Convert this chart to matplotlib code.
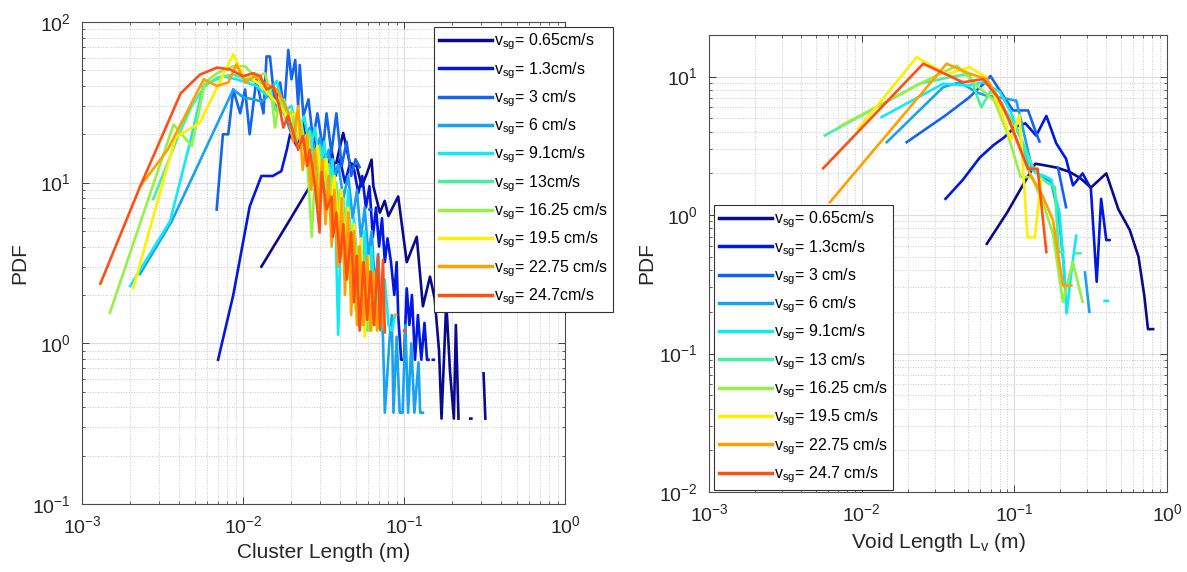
import numpy as np
import matplotlib
matplotlib.use("Agg")
import matplotlib.pyplot as plt

plt.rcParams['font.family'] = ['Liberation Sans', 'DejaVu Sans']
plt.rcParams['mathtext.fontset'] = 'custom'
plt.rcParams['mathtext.rm'] = 'Liberation Sans'
plt.rcParams['mathtext.it'] = 'Liberation Sans:italic'
plt.rcParams['mathtext.bf'] = 'Liberation Sans:bold'

nan = np.nan

# superficial gas velocities and line colours (jet-like)
labels_left = ['0.65cm/s', '1.3cm/s', '3 cm/s', '6 cm/s', '9.1cm/s', '13cm/s',
               '16.25 cm/s', '19.5 cm/s', '22.75 cm/s', '24.7cm/s']
labels_right = ['0.65cm/s', '1.3cm/s', '3 cm/s', '6 cm/s', '9.1cm/s', '13 cm/s',
                '16.25 cm/s', '19.5 cm/s', '22.75 cm/s', '24.7 cm/s']
colors = ['#0a0a8c', '#0018e0', '#1464f0', '#18a2f0', '#10eaf8',
          '#46f0a0', '#96f046', '#fff000', '#ffa000', '#ff5014']

# ---- cluster length PDFs (left) ----
cl_x_065 = [0.0130, 0.0196, 0.0257, 0.0290, 0.0330, 0.0380, 0.0419, 0.0460, 0.0508, 0.0546, 0.0590,
            0.0629, 0.0645, 0.0708, 0.0759, 0.0800, 0.0920, 0.1040, 0.1200, 0.1310, 0.1450, 0.1550,
            0.1650, 0.1710, 0.1830, 0.1930, 0.2040, 0.2100, 0.2180, nan, 0.2580, 0.2620, nan, 0.3120, 0.3200]
cl_y_065 = [3.0, 5.9, 9.3, 11.0, 12.7, 13.3, 20.4, 13.3, 12.7, 9.5, 11.5,
            13.9, 9.5, 6.5, 7.7, 6.2, 8.2, 3.2, 4.6, 1.7, 2.6, 1.9,
            0.9, 0.34, 1.8, 0.67, 0.34, 1.3, 0.34, nan, 0.34, 0.34, nan, 0.65, 0.34]
cl_x_13 = [0.0070, 0.0087, 0.0110, 0.0130, 0.0153, 0.0173, 0.0187, 0.0196, 0.0215, 0.0235, 0.0255,
           0.0275, 0.0295, 0.0315, 0.0335, 0.0355, 0.0375, 0.0400, 0.0430, 0.0460, 0.0490, 0.0520,
           0.0550, 0.0580, 0.0610, 0.0640, 0.0670, 0.0700, 0.0730, 0.0760, 0.0790, 0.0830, 0.0870,
           0.0900, 0.0920, 0.0960, 0.1000, 0.1040, 0.1080, 0.1120, 0.1170, 0.1220, 0.1280, 0.1340,
           0.1390, 0.1420, nan, 0.1510, 0.1530]
cl_y_13 = [0.79, 2.0, 7.1, 11.0, 11.0, 11.8, 16.0, 20.0, 17.0, 24.0, 15.0,
           21.0, 13.0, 18.0, 12.0, 16.0, 11.0, 14.0, 10.0, 13.0, 12.0, 8.6,
           11.0, 7.0, 9.5, 4.6, 7.0, 4.0, 6.0, 3.2, 4.5, 3.2, 2.0,
           3.2, 1.5, 0.79, 0.79, 2.2, 1.3, 2.0, 0.79, 1.5, 0.79, 1.34,
           0.79, 0.79, nan, 0.79, 0.79]
cl_x_3 = [0.00686, 0.0075, 0.0081, 0.0087, 0.0096, 0.0103, 0.0110, 0.0121, 0.0134, 0.0140, 0.0147,
          0.0158, 0.0170, 0.0180, 0.0191, 0.0200, 0.0211, 0.0220, 0.0225, 0.0237, 0.0255, 0.0272,
          0.0290, 0.0314, 0.0330, 0.0354, 0.0380, 0.0410, 0.0440, 0.0470, 0.0500, 0.0530, nan,
          0.0610, 0.0625]
cl_y_3 = [6.8, 20.0, 20.0, 38.0, 27.0, 38.0, 20.0, 44.0, 27.0, 61.0, 61.0,
          30.0, 42.0, 28.0, 67.0, 44.0, 58.0, 30.0, 54.0, 26.0, 33.0, 18.6,
          27.0, 16.0, 27.0, 15.3, 27.0, 12.7, 18.0, 11.0, 14.0, 12.5, nan,
          6.8, 6.8]
cl_x_6 = [0.00229, 0.00361, 0.0087, 0.0100, 0.0116, 0.0130, 0.0145, 0.0160, 0.0180, 0.0200, 0.0220,
          0.0240, 0.0260, 0.0280, 0.0300, 0.0320, 0.0340, 0.0360, 0.0390, 0.0420, 0.0450, 0.0480,
          0.0510, 0.0540, 0.0570, 0.0600, 0.0630, 0.0660, 0.0690, 0.0720, 0.0740, 0.0760, 0.0810,
          0.0840, 0.0860, 0.0900, 0.0940, 0.0980, 0.1020, 0.1060, 0.1110, 0.1160, 0.1230, 0.1260, 0.1310]
cl_y_6 = [2.7, 5.75, 38.0, 34.0, 33.0, 32.0, 35.0, 30.0, 27.0, 20.0, 25.0,
          18.0, 22.0, 15.0, 19.0, 12.0, 16.0, 10.0, 13.0, 8.0, 11.0, 6.0,
          9.0, 4.5, 7.0, 3.5, 5.0, 2.2, 3.6, 1.5, 1.1, 0.37, 1.0,
          1.5, 0.37, 1.1, 0.37, 0.37, 1.3, 0.37, 1.0, 0.37, 0.76, 0.37, 0.37]
cl_x_91 = [0.00199, 0.00352, 0.00468, 0.00566, 0.0075, 0.0091, 0.0105, 0.0121, 0.0140, 0.0162, 0.0180,
           0.0200, 0.0220, 0.0240, 0.0260, 0.0280, 0.0300, 0.0320, 0.0340, 0.0360, 0.0375, 0.0390,
           0.0410, 0.0430, 0.0450, 0.0470, 0.0490, 0.0510, 0.0540, 0.0570, 0.0600, 0.0630, 0.0660,
           0.0690, 0.0720, 0.0760, 0.0800, 0.0840, 0.0880]
cl_y_91 = [2.27, 5.75, 17.7, 40.0, 46.0, 44.0, 42.0, 40.0, 35.0, 43.0, 28.0,
           30.0, 20.0, 26.0, 16.0, 22.0, 12.0, 18.0, 9.0, 14.0, 6.0, 1.13,
           8.0, 4.0, 9.0, 3.0, 6.0, 1.8, 1.3, 5.0, 2.0, 4.0, 1.4,
           3.0, 1.2, 2.5, 1.3, 1.2, 1.5]
cl_x_130 = [0.00277, 0.0040, 0.0048, 0.0058, 0.0069, 0.0087, 0.0105, 0.0125, 0.0145, 0.0160, 0.0180,
            0.0200, 0.0220, 0.0240, 0.0260, 0.0280, 0.0300, 0.0320, 0.0340, 0.0360, 0.0380, 0.0400,
            0.0420, 0.0440, 0.0460, 0.0480, 0.0500, 0.0530, 0.0560, 0.0590, 0.0620, 0.0650, 0.0680,
            0.0710, 0.0740]
cl_y_130 = [7.9, 20.0, 30.0, 40.0, 45.0, 47.0, 44.0, 42.0, 40.0, 28.0, 33.0,
            22.0, 27.0, 16.0, 21.0, 12.0, 17.0, 8.5, 13.0, 6.0, 10.0, 4.0,
            8.0, 2.5, 6.0, 1.8, 4.5, 1.4, 3.5, 1.2, 2.8, 1.3, 2.2,
            1.2, 1.6]
cl_x_1625 = [0.00149, 0.0037, 0.0048, 0.0058, 0.0069, 0.0087, 0.0103, 0.0120, 0.0137, 0.0151, 0.0158,
             0.0170, 0.0185, 0.0200, 0.0215, 0.0230, 0.0250, 0.0267, 0.0285, 0.0300, 0.0320, 0.0340,
             0.0360, 0.0380, 0.0400, 0.0420, 0.0440, 0.0460, 0.0480, 0.0500, 0.0520, 0.0550, 0.0580,
             0.0610, 0.0640, 0.0660]
cl_y_1625 = [1.55, 23.0, 16.9, 42.0, 48.0, 53.0, 53.0, 45.0, 48.0, 33.0, 22.0,
             35.0, 25.0, 28.0, 18.0, 24.0, 14.0, 4.6, 16.0, 10.0, 14.0, 7.0,
             11.0, 5.0, 9.0, 3.5, 7.0, 2.5, 5.5, 1.6, 4.0, 1.3, 3.0,
             1.2, 2.2, 1.3]
cl_x_195 = [0.00208, 0.0038, 0.0054, 0.0087, 0.0100, 0.0115, 0.0130, 0.0150, 0.0170, 0.0190, 0.0210,
            0.0230, 0.0250, 0.0270, 0.0290, 0.0310, 0.0330, 0.0350, 0.0370, 0.0390, 0.0410, 0.0430,
            0.0450, 0.0470, 0.0490, 0.0510, 0.0540, 0.0570, 0.0600, 0.0630, 0.0660]
cl_y_195 = [2.2, 19.0, 23.6, 63.0, 47.0, 44.0, 40.0, 34.0, 30.0, 25.0, 27.0,
            17.0, 20.0, 12.0, 17.0, 10.0, 14.0, 7.0, 11.0, 5.0, 9.0, 3.5,
            7.0, 2.5, 5.5, 1.8, 4.5, 1.1, 3.5, 1.2, 2.0]
cl_x_2275 = [0.0023, 0.0034, 0.0057, 0.0069, 0.0081, 0.0091, 0.0103, 0.0118, 0.0134, 0.0148, 0.0162,
             0.0175, 0.0190, 0.0205, 0.0220, 0.0235, 0.0250, 0.0265, 0.0280, 0.0295, 0.0310, 0.0325,
             0.0340, 0.0355, 0.0370, 0.0390, 0.0410, 0.0430, 0.0450, 0.0470, 0.0490, 0.0510, 0.0530,
             0.0560, 0.0590, 0.0620, 0.0650, 0.0680, 0.0710, 0.0740, nan, 0.0880, 0.0895]
cl_y_2275 = [9.5, 16.0, 44.0, 40.0, 42.0, 54.5, 42.0, 46.0, 42.0, 40.0, 38.0,
             33.0, 28.0, 18.0, 30.0, 12.0, 20.0, 9.0, 16.0, 7.0, 14.0, 5.5,
             11.0, 4.0, 9.0, 3.0, 8.0, 2.0, 6.5, 1.5, 5.0, 1.3, 4.0,
             1.3, 3.5, 1.2, 2.8, 1.2, 2.2, 1.3, nan, 1.5, 1.5]
cl_x_247 = [0.0013, 0.0023, 0.0041, 0.0054, 0.0069, 0.0083, 0.0100, 0.0116, 0.0128, 0.0140, 0.0154,
            0.0168, 0.0178, 0.0190, 0.0205, 0.0220, 0.0236, 0.0250, 0.0260, 0.0280, 0.0299, 0.0308,
            0.0330, 0.0355, 0.0362, 0.0380, 0.0400, 0.0420, 0.0440, 0.0470, 0.0490, 0.0508, 0.0530,
            0.0560, 0.0590, 0.0620, 0.0650, 0.0690, 0.0710, 0.0740, 0.0760, nan, 0.1000, 0.1020]
cl_y_247 = [2.35, 9.5, 36.0, 47.0, 52.0, 50.6, 46.0, 48.0, 46.0, 38.0, 40.0,
            30.0, 22.0, 26.0, 20.5, 16.0, 19.5, 12.7, 16.0, 9.5, 4.9, 11.6,
            6.8, 8.2, 4.6, 6.5, 3.2, 5.5, 2.5, 4.9, 1.8, 3.5, 1.2,
            3.2, 1.4, 2.8, 1.3, 3.5, 1.22, 3.3, 1.17, nan, 1.2, 1.2]

cluster_x = [cl_x_065, cl_x_13, cl_x_3, cl_x_6, cl_x_91, cl_x_130, cl_x_1625, cl_x_195, cl_x_2275, cl_x_247]
cluster_y = [cl_y_065, cl_y_13, cl_y_3, cl_y_6, cl_y_91, cl_y_130, cl_y_1625, cl_y_195, cl_y_2275, cl_y_247]

# ---- void length PDFs (right) ----
vd_x_065 = [0.066, 0.090, 0.112, 0.137, 0.154, 0.190, 0.230, 0.270, 0.317, 0.400, 0.480, 0.570, 0.650, 0.710, 0.750, 0.810]
vd_y_065 = [0.62, 1.05, 1.6, 2.35, 2.3, 2.2, 2.05, 1.85, 1.58, 2.0, 1.1, 0.78, 0.5, 0.26, 0.15, 0.15]
vd_x_13 = [0.0354, 0.046, 0.0593, 0.073, 0.086, 0.100, 0.118, 0.139, 0.162, 0.188, 0.218, 0.242, 0.280, 0.317, 0.346, 0.370, 0.400, 0.420]
vd_y_13 = [1.31, 1.8, 2.6, 3.2, 3.65, 4.3, 4.6, 3.75, 5.2, 3.3, 2.55, 1.64, 2.0, 1.55, 0.33, 1.31, 0.66, 0.66]
vd_x_3 = [0.0197, 0.035, 0.050, 0.0624, 0.0697, 0.080, 0.098, 0.112, 0.123, 0.139, 0.146, nan, 0.193, 0.218]
vd_y_3 = [3.36, 5.2, 7.0, 8.8, 10.1, 8.0, 5.7, 5.7, 5.7, 3.9, 3.4, nan, 2.2, 1.14]
vd_x_6 = [0.0146, 0.0342, 0.044, 0.0565, 0.0655, 0.078, 0.090, 0.103, 0.115, 0.130, 0.150, 0.174, 0.195, 0.210, 0.220, nan, 0.290, 0.310]
vd_y_6 = [3.36, 8.4, 9.1, 7.7, 7.3, 7.1, 6.9, 6.7, 4.0, 2.2, 1.9, 1.74, 1.0, 0.45, 0.2, nan, 0.385, 0.2]
vd_x_91 = [0.0135, 0.0342, 0.050, 0.0624, 0.080, 0.095, 0.110, 0.125, 0.140, 0.160, 0.175, 0.198, 0.214, 0.220, 0.237, 0.254, nan, 0.390, 0.410]
vd_y_91 = [5.1, 8.9, 8.6, 9.1, 7.8, 5.5, 3.6, 2.2, 2.0, 1.9, 1.8, 1.02, 0.34, 0.195, 0.4, 0.71, nan, 0.24, 0.24]
vd_x_130 = [0.00574, 0.024, 0.0378, 0.0505, 0.0606, 0.070, 0.085, 0.100, 0.114, 0.130, 0.147, 0.165, 0.184, 0.195, 0.210, nan, 0.250, 0.270]
vd_y_130 = [3.76, 8.9, 9.9, 10.5, 6.0, 7.9, 6.0, 4.5, 3.3, 2.3, 1.9, 1.7, 1.6, 0.54, 0.54, nan, 0.53, 0.53]
vd_x_1625 = [0.00726, 0.0251, 0.0421, 0.0557, 0.074, 0.090, 0.110, 0.130, 0.155, 0.179, 0.208, 0.241, 0.280]
vd_y_1625 = [4.4, 9.1, 12.0, 8.8, 6.7, 3.9, 1.88, 1.88, 1.2, 0.73, 0.236, 0.46, 0.236]
vd_x_195 = [0.0095, 0.0229, 0.036, 0.0509, 0.0655, 0.080, 0.095, 0.108, 0.122, 0.136, 0.150]
vd_y_195 = [4.2, 13.8, 10.4, 11.7, 9.9, 6.0, 3.5, 5.3, 0.69, 0.69, 1.8]
vd_x_2275 = [0.0062, 0.036, 0.051, 0.066, 0.083, 0.126, 0.152, 0.179, 0.208, 0.236]
vd_y_2275 = [1.24, 12.4, 10.5, 9.6, 6.4, 2.0, 1.4, 0.92, 0.31, 0.31]
vd_x_247 = [0.0056, 0.0253, 0.0461, 0.0624, 0.0778, 0.093, 0.108, 0.123, 0.142, 0.162]
vd_y_247 = [2.18, 12.4, 9.1, 9.6, 7.1, 4.8, 3.1, 2.16, 2.16, 0.54]

void_x = [vd_x_065, vd_x_13, vd_x_3, vd_x_6, vd_x_91, vd_x_130, vd_x_1625, vd_x_195, vd_x_2275, vd_x_247]
void_y = [vd_y_065, vd_y_13, vd_y_3, vd_y_6, vd_y_91, vd_y_130, vd_y_1625, vd_y_195, vd_y_2275, vd_y_247]


def style_axes(ax, ylim):
    ax.set_xscale('log')
    ax.set_yscale('log')
    ax.set_xlim(1e-3, 1)
    ax.set_ylim(*ylim)
    ax.grid(True, which='major', color='#dcdcdc', lw=0.8, ls='-')
    ax.grid(True, which='minor', color='#c8c8c8', lw=0.7, ls=':')
    ax.set_axisbelow(True)
    ax.tick_params(which='both', direction='in', top=True, right=True,
                   labelsize=14, colors='#262626', pad=8)
    ax.tick_params(which='major', length=5, width=0.6)
    ax.tick_params(which='minor', length=2.5, width=0.5)
    for s in ax.spines.values():
        s.set_color('#4d4d4d')
        s.set_linewidth(0.8)


fig = plt.figure(figsize=(11.87, 5.72), dpi=100)
ax1 = fig.add_axes([0.0691, 0.1189, 0.4069, 0.8427])
ax2 = fig.add_axes([0.5973, 0.1399, 0.3859, 0.7990])

for xs, ys, c, lab in zip(cluster_x, cluster_y, colors, labels_left):
    ax1.plot(xs, ys, color=c, lw=1.9, label=r'v$_{\mathrm{sg}}$= ' + lab)
for xs, ys, c, lab in zip(void_x, void_y, colors, labels_right):
    ax2.plot(xs, ys, color=c, lw=1.9, label=r'v$_{\mathrm{sg}}$= ' + lab)

style_axes(ax1, (0.1, 100))
style_axes(ax2, (0.01, 20))

ax1.set_xlabel('Cluster Length (m)', fontsize=15, color='#262626')
ax1.set_ylabel('PDF', fontsize=15, color='#262626', labelpad=2)
ax2.set_xlabel(r'Void Length L$_{\mathrm{v}}$ (m)', fontsize=15, color='#262626')
ax2.set_ylabel('PDF', fontsize=15, color='#262626', labelpad=2)

leg_kw = dict(loc='upper left', bbox_transform=fig.transFigure, fontsize=11.5,
              fancybox=False, framealpha=1, edgecolor='#333333', handlelength=3.3,
              handletextpad=0.15, labelspacing=0.48, borderpad=0.3, borderaxespad=0)
l1 = ax1.legend(bbox_to_anchor=(434 / 1187, 1 - 27 / 572), **leg_kw)
l2 = ax2.legend(bbox_to_anchor=(714 / 1187, 1 - 205 / 572), **leg_kw)
for lg in (l1, l2):
    lg.get_frame().set_linewidth(0.8)
    for ln in lg.get_lines():
        ln.set_linewidth(2.5)

fig.savefig('out.png', dpi=100)
